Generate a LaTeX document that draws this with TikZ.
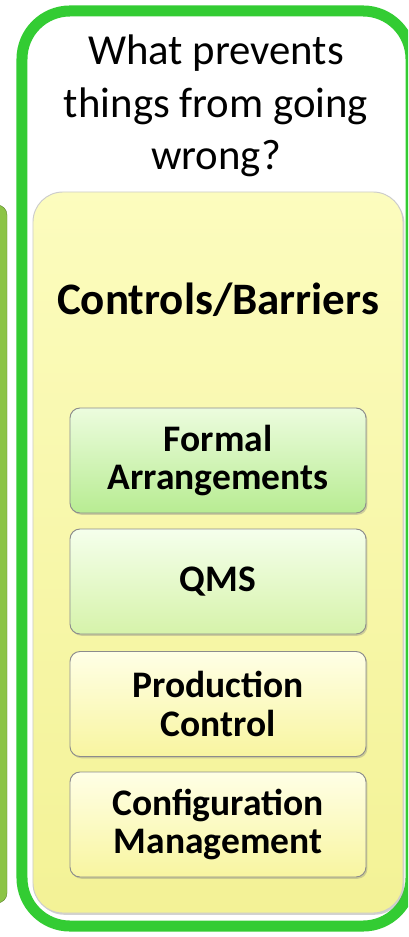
\documentclass[tikz,border=0pt]{standalone}
\usepackage{fontspec}
\setmainfont{Carlito}
\usetikzlibrary{shadows}

\definecolor{framegreen}{RGB}{51,204,51}
\definecolor{sidegreen}{RGB}{140,196,70}
\definecolor{padtop}{RGB}{252,252,190}
\definecolor{padbot}{RGB}{243,242,150}
\definecolor{fgtop}{RGB}{236,252,222}
\definecolor{fgbot}{RGB}{184,236,146}
\definecolor{qmstop}{RGB}{245,255,236}
\definecolor{qmsbot}{RGB}{214,243,170}
\definecolor{yltop}{RGB}{255,255,230}
\definecolor{ylbot}{RGB}{248,245,160}

\begin{document}
\begin{tikzpicture}[x=0.03cm, y=-0.03cm,
    boxshadow/.style={drop shadow={opacity=0.35, shadow xshift=1.2pt, shadow yshift=-1.5pt}},
    ctrlbox/.style={draw=black!45, line width=0.8pt, rounded corners=0.3cm,
        minimum width=8.88cm, minimum height=3.15cm, inner sep=0pt,
        align=center, font=\bfseries\fontsize{32}{33}\selectfont, boxshadow}]
    \useasboundingbox (0,0) rectangle (408,937);
    \clip (0,0) rectangle (408,937);
    % neighbouring column, cut off at the left
    \node[draw=sidegreen!70!black, fill=sidegreen, rounded corners=0.3cm,
        minimum width=0.81cm, minimum height=20.94cm, inner sep=0pt] (side) at (-6.5,554) {};
    % outer frame
    \node[draw=framegreen, line width=9.4pt, fill=white, rounded corners=1.44cm,
        minimum width=11.67cm, minimum height=27.45cm, inner sep=0pt] (frame) at (216.5,468.5) {};
    \node[align=center, font=\fontsize{36.5}{45}\selectfont] (question) at (216,106) {What prevents\\things from going\\wrong?};
    % yellow pad
    \node[draw=black!20, line width=0.8pt, top color=padtop, bottom color=padbot, rounded corners=0.9cm,
        minimum width=11.1cm, minimum height=21.63cm, inner sep=0pt, boxshadow] (pad) at (218,552.5) {};
    \node[font=\bfseries\fontsize{38.4}{40}\selectfont] (title) at (218,300) {Controls/Barriers};
    \node[ctrlbox, top color=fgtop, bottom color=fgbot] (formal) at (218,460.5) {Formal\\Arrangements};
    \node[ctrlbox, top color=qmstop, bottom color=qmsbot] (qms) at (218,581.5) {QMS};
    \node[ctrlbox, top color=yltop, bottom color=ylbot] (prod) at (218,704) {Production\\Control};
    \node[ctrlbox, top color=yltop, bottom color=ylbot] (config) at (218,824.5) {Configuration\\Management};
\end{tikzpicture}
\end{document}
